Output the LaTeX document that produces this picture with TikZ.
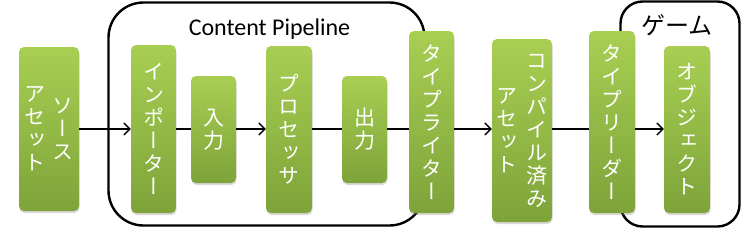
\documentclass[tikz,border=0pt]{standalone}
\usepackage{fontspec}
\usepackage{tikz}
\usetikzlibrary{positioning, arrows.meta, shadows}
\newfontfamily\tatefont[RawFeature=+vert]{Noto Sans CJK JP}
\newfontfamily\jpfont{Noto Sans CJK JP}
\newfontfamily\titlefont{Carlito}
\definecolor{cGreenTop}{HTML}{A8CF52}
\definecolor{cGreenBot}{HTML}{7EA33A}
\newcommand{\tate}[2][28pt]{\parbox[c]{#1}{\centering #2}}
\tikzset{
  stage/.style={rounded corners=5pt, top color=cGreenTop, bottom color=cGreenBot,
    inner sep=0pt, minimum width=45pt, text=white,
    font=\tatefont\fontsize{21}{23}\selectfont,
    drop shadow={shadow xshift=0.5pt, shadow yshift=-2pt, opacity=0.3}},
  group/.style={draw, line width=2.4pt, inner sep=0pt},
  flow/.style={line width=1.4pt},
  feed/.style={flow, -{Straight Barb[length=6pt,width=12pt]}},
}
\begin{document}
\begin{tikzpicture}[x=1pt, y=-1pt]
  \useasboundingbox (0,0) rectangle (752,231);
  % groups
  \node[group, rounded corners=35pt, minimum width=316pt, minimum height=223pt] (pipe) at (266.5,114) {};
  \node[group, rounded corners=22pt, minimum width=119pt, minimum height=225pt] (game) at (680,114) {};
  \node[anchor=base, font=\titlefont\fontsize{24}{28}\selectfont] (pipetitle) at (269.5,35) {Content Pipeline};
  \node[anchor=base, font=\jpfont\fontsize{24}{28}\selectfont] (gametitle) at (677,34) {ゲーム};
  % stages
  \node[stage, minimum width=60pt, minimum height=164pt] (src) at (49,129) {\tate{ア\\セ\\ッ\\ト}\tate{ソ\\ー\\ス}};
  \node[stage, minimum height=168pt] (imp) at (153.5,129) {\tate{イ\\ン\\ポ\\ー\\タ\\ー}};
  \node[stage, minimum height=107pt] (in) at (213.5,129.5) {\tate{入\\力}};
  \node[stage, minimum width=46pt, minimum height=167pt] (proc) at (289,129.5) {\tate{プ\\ロ\\セ\\ッ\\サ}};
  \node[stage, minimum height=107pt] (out) at (364.5,129.5) {\tate{出\\力}};
  \node[stage, minimum height=182pt] (writer) at (431.5,122) {\tate{タ\\イ\\プ\\ラ\\イ\\タ\\ー}};
  \node[stage, minimum width=60pt, minimum height=183pt] (comp) at (522,130.5) {\tate[30pt]{ア\\セ\\ッ\\ト}\tate[30pt]{コ\\ン\\パ\\イ\\ル\\済\\み}};
  \node[stage, minimum width=46pt, minimum height=182pt] (reader) at (612,122) {\tate{タ\\イ\\プ\\リ\\ー\\ダ\\ー}};
  \node[stage, minimum width=46pt, minimum height=167pt] (obj) at (687,129.5) {\tate{オ\\ブ\\ジ\\ェ\\ク\\ト}};
  % connectors
  \coordinate (flowline) at (0,129);
  \foreach \a/\b/\kind in {src/imp/feed, imp/in/flow, in/proc/feed, proc/out/flow,
      out/writer/flow, writer/comp/feed, comp/reader/flow, reader/obj/feed}
    \draw[\kind] (\a.east |- flowline) -- (\b.west |- flowline);
\end{tikzpicture}
\end{document}
